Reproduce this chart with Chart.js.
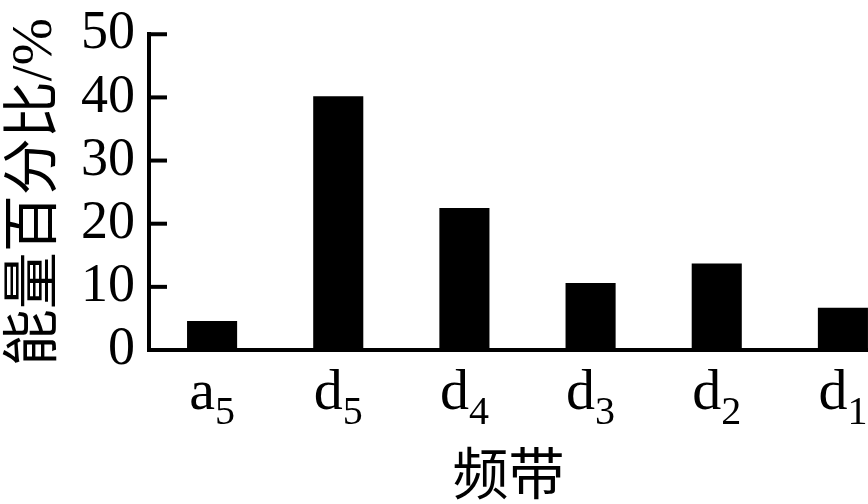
<!DOCTYPE html>
<html>
<head>
<meta charset="utf-8">
<script src="https://cdn.jsdelivr.net/npm/chart.js@4.4.0/dist/chart.umd.min.js"></script>
<style>
  html, body { margin: 0; padding: 0; background: #fff; overflow: hidden; }
  #wrap { width: 906px; height: 504px; }
</style>
</head>
<body>
<div id="wrap"><canvas id="chart-energia"></canvas></div>
<script>
// Energia por faixa de frequência
const faixas = ["a5", "d5", "d4", "d3", "d2", "d1"]; // 1a letra normal, resto subscrito
const energia = [4.6, 40.2, 22.5, 10.6, 13.7, 6.7];
const yTicks = [0, 10, 20, 30, 40, 50];
const tituloY = "能量百分比/%";
const tituloX = "频带";

const fonteSerif = "'Liberation Serif', 'Times New Roman', serif";
const fonteCJK = "'Liberation Serif', 'Noto Sans CJK SC', serif";

// marcas para dentro, rótulos com subscrito e título do eixo x
const eixoPlugin = {
  id: "eixo",
  afterDraw(chart) {
    const { ctx, chartArea, scales } = chart;
    const x = scales.x;
    const y = scales.y;
    ctx.save();
    ctx.strokeStyle = "#000";
    ctx.lineWidth = 4;
    y.ticks.forEach((t) => {
      const py = y.getPixelForValue(t.value);
      ctx.beginPath();
      ctx.moveTo(chartArea.left - 2, py);
      ctx.lineTo(chartArea.left + 18, py);
      ctx.stroke();
    });

    ctx.fillStyle = "#000";
    ctx.textBaseline = "alphabetic";
    ctx.textAlign = "left";
    chart.data.labels.forEach((lab, i) => {
      const cx = x.getPixelForValue(i);
      const base = lab[0];
      const sub = lab.slice(1);
      ctx.font = "58px " + fonteSerif;
      const w1 = ctx.measureText(base).width;
      ctx.font = "40px " + fonteSerif;
      const w2 = ctx.measureText(sub).width;
      const sx = cx - (w1 + w2) / 2;
      ctx.font = "58px " + fonteSerif;
      ctx.fillText(base, sx, chartArea.bottom + 59);
      ctx.font = "40px " + fonteSerif;
      ctx.fillText(sub, sx + w1, chartArea.bottom + 74);
    });

    // título centrado na parte visível (a área do gráfico passa da janela)
    const visivel = document.documentElement.clientWidth;
    ctx.font = "56px " + fonteCJK;
    ctx.textAlign = "center";
    ctx.textBaseline = "middle";
    ctx.fillText(tituloX, (chartArea.left + visivel) / 2, chartArea.bottom + 129);
    ctx.restore();
  },
};

const ctx = document.getElementById("chart-energia").getContext("2d");
new Chart(ctx, {
  type: "bar",
  data: {
    labels: faixas,
    datasets: [
      {
        label: tituloY,
        data: energia,
        backgroundColor: "#000",
        borderWidth: 0,
        barPercentage: 1,
        categoryPercentage: 0.397,
      },
    ],
  },
  options: {
    responsive: true,
    maintainAspectRatio: false,
    animation: false,
    layout: {
      padding: { top: 0, left: 8, right: 0, bottom: 154 },
    },
    plugins: {
      legend: { display: false },
      tooltip: { enabled: false },
    },
    scales: {
      x: {
        grid: { display: false, drawTicks: false },
        border: { display: true, color: "#000", width: 4 },
        ticks: { display: false },
      },
      y: {
        min: 0,
        max: 50,
        afterBuildTicks: (scale) => {
          scale.ticks = yTicks.map((v) => ({ value: v }));
        },
        grid: { display: false, drawTicks: false },
        border: { display: true, color: "#000", width: 4 },
        ticks: {
          color: "#000",
          padding: 14,
          font: { family: fonteSerif, size: 54, lineHeight: 0.75 },
        },
        title: {
          display: true,
          text: tituloY,
          color: "#000",
          padding: { top: 0, bottom: 2 },
          font: { family: fonteCJK, size: 57, lineHeight: 1 },
        },
      },
    },
  },
  plugins: [eixoPlugin],
});
</script>
</body>
</html>
